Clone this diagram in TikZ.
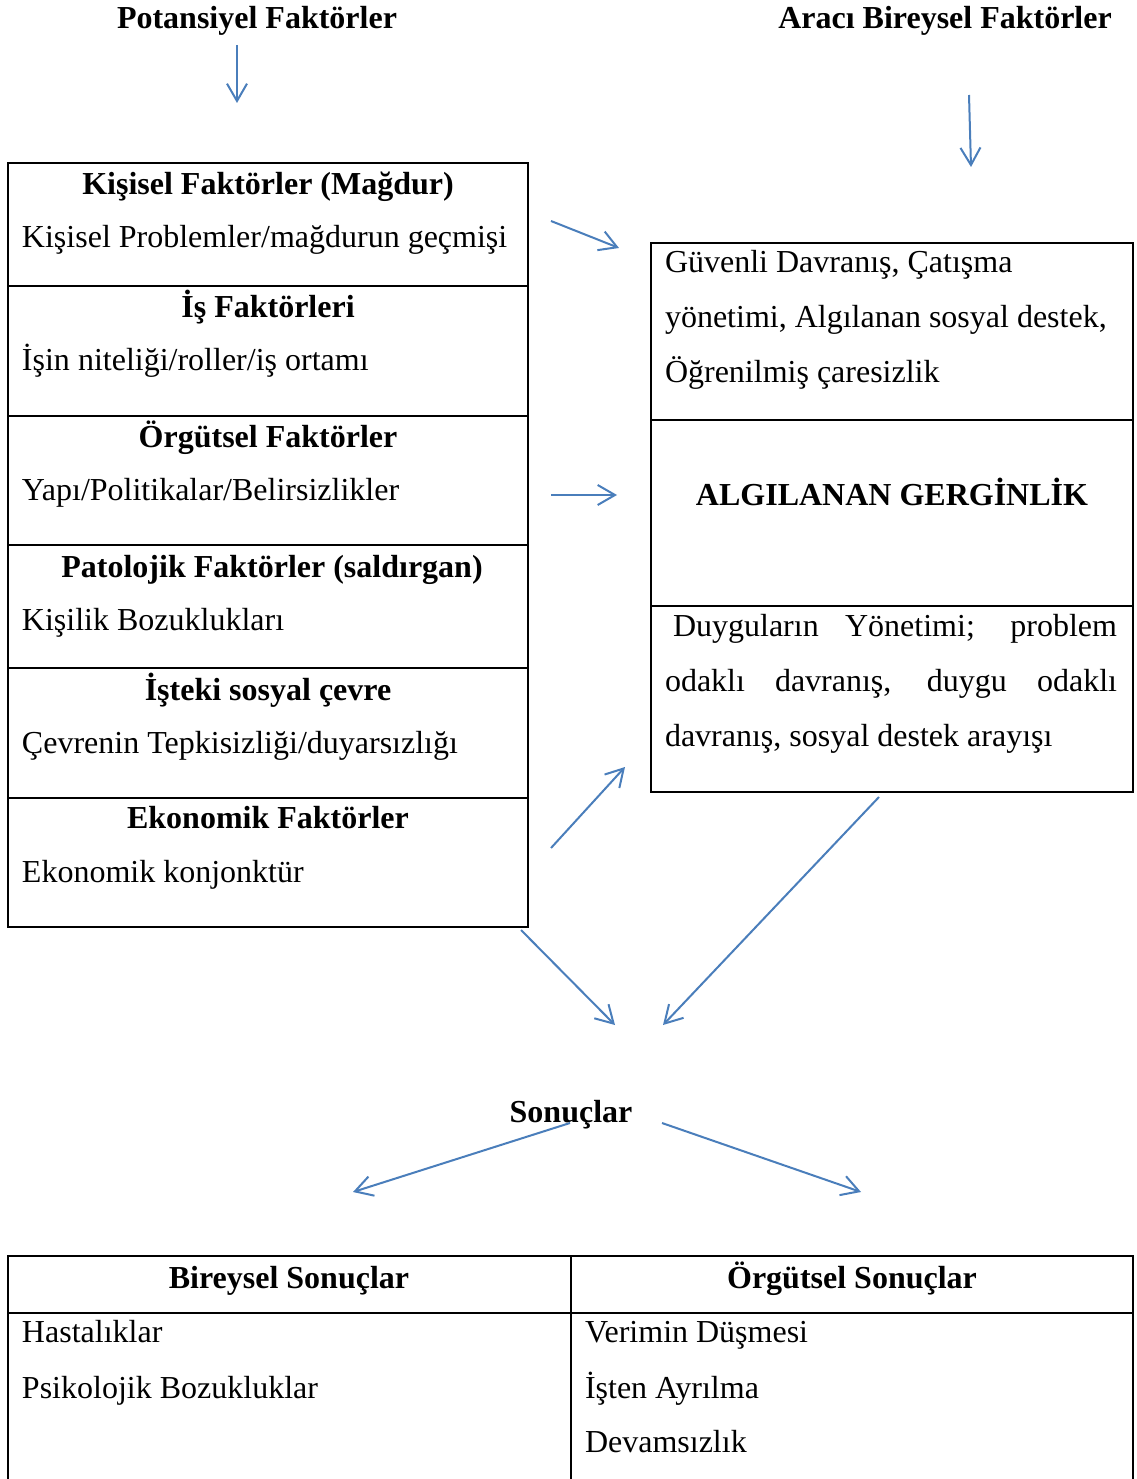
\documentclass[tikz,border=0pt]{standalone}
\usepackage{fontspec}
\setmainfont{Liberation Serif}
\usetikzlibrary{arrows.meta}
\definecolor{arrblue}{RGB}{74,126,187}
\begin{document}
\begin{tikzpicture}[x=0.375pt,y=-0.375pt,
  every node/.style={font=\fontsize{12pt}{14pt}\selectfont, inner sep=0pt, outer sep=0pt},
  hd/.style={font=\fontsize{12pt}{14pt}\selectfont\bfseries, anchor=base},
  txt/.style={anchor=base west},
  box/.style={line width=0.8pt, draw=black},
  arr/.style={draw=arrblue, line width=0.75pt, -{Straight Barb[length=6.5pt,width=7.5pt]}}]
\useasboundingbox (0,0) rectangle (1136,1479);

% titles
\node[hd] (t1) at (257,29) {Potansiyel Faktörler};
\node[hd] (t2) at (945,29) {Aracı Bireysel Faktörler};

% left box
\draw[box] (8,163) rectangle (528,927);
\foreach \yy in {286,416,545,668,798} \draw[box] (8,\yy) -- (528,\yy);
\node[hd] (h1) at (268,195) {Kişisel Faktörler (Mağdur)};
\node[txt] (b1) at (22,248) {Kişisel Problemler/mağdurun geçmişi};
\node[hd] (h2) at (268,318) {İş Faktörleri};
\node[txt] (b2) at (22,371) {İşin niteliği/roller/iş ortamı};
\node[hd] (h3) at (268,447) {Örgütsel Faktörler};
\node[txt] (b3) at (22,500) {Yapı/Politikalar/Belirsizlikler};
\node[hd] (h4) at (272,577) {Patolojik Faktörler (saldırgan)};
\node[txt] (b4) at (22,630) {Kişilik Bozuklukları};
\node[hd] (h5) at (268,700) {İşteki sosyal çevre};
\node[txt] (b5) at (22,753) {Çevrenin Tepkisizliği/duyarsızlığı};
\node[hd] (h6) at (268,828) {Ekonomik Faktörler};
\node[txt] (b6) at (22,882) {Ekonomik konjonktür};

% right box
\draw[box] (651,243) rectangle (1133,792);
\draw[box] (651,420) -- (1133,420);
\draw[box] (651,606) -- (1133,606);
\node[txt] (r1) at (665,273) {Güvenli Davranış, Çatışma};
\node[txt] (r2) at (665,328) {yönetimi, Algılanan sosyal destek,};
\node[txt] (r3) at (665,383) {Öğrenilmiş çaresizlik};
\node[hd] (ag) at (892,505) {ALGILANAN GERGİNLİK};
\node[txt] (r4) at (673,636) {\makebox[166.5pt][s]{Duyguların Yönetimi; problem}};
\node[txt] (r5) at (665,691) {\makebox[169.5pt][s]{odaklı davranış, duygu odaklı}};
\node[txt] (r6) at (665,746) {davranış, sosyal destek arayışı};

% Sonuclar
\node[hd] (son) at (571,1122) {Sonuçlar};

% bottom table
\draw[box] (8,1479) -- (8,1256) -- (1133,1256) -- (1133,1479);
\draw[box] (571,1256) -- (571,1479);
\draw[box] (8,1313) -- (1133,1313);
\node[hd] (bh1) at (289,1288) {Bireysel Sonuçlar};
\node[hd] (bh2) at (852,1288) {Örgütsel Sonuçlar};
\node[txt] (c1) at (22,1342) {Hastalıklar};
\node[txt] (c2) at (22,1398) {Psikolojik Bozukluklar};
\node[txt] (c3) at (585,1342) {Verimin Düşmesi};
\node[txt] (c4) at (585,1398) {İşten Ayrılma};
\node[txt] (c5) at (585,1452) {Devamsızlık};

% arrow endpoints
\coordinate (a1s) at (237,45);   \coordinate (a1e) at (237,103);
\coordinate (a2s) at (969,95);   \coordinate (a2e) at (971,167);
\coordinate (a3s) at (551,221);  \coordinate (a3e) at (619,248);
\coordinate (a4s) at (551,495);  \coordinate (a4e) at (617,495);
\coordinate (a5s) at (551,848);  \coordinate (a5e) at (625,767);
\coordinate (a6s) at (521,930);  \coordinate (a6e) at (615,1025);
\coordinate (a7s) at (879,797);  \coordinate (a7e) at (663,1025);
\coordinate (a8s) at (570,1123); \coordinate (a8e) at (353,1192);
\coordinate (a9s) at (662,1123); \coordinate (a9e) at (861,1192);
\foreach \i in {1,...,9} \draw[arr] (a\i s) -- (a\i e);
\end{tikzpicture}
\end{document}
